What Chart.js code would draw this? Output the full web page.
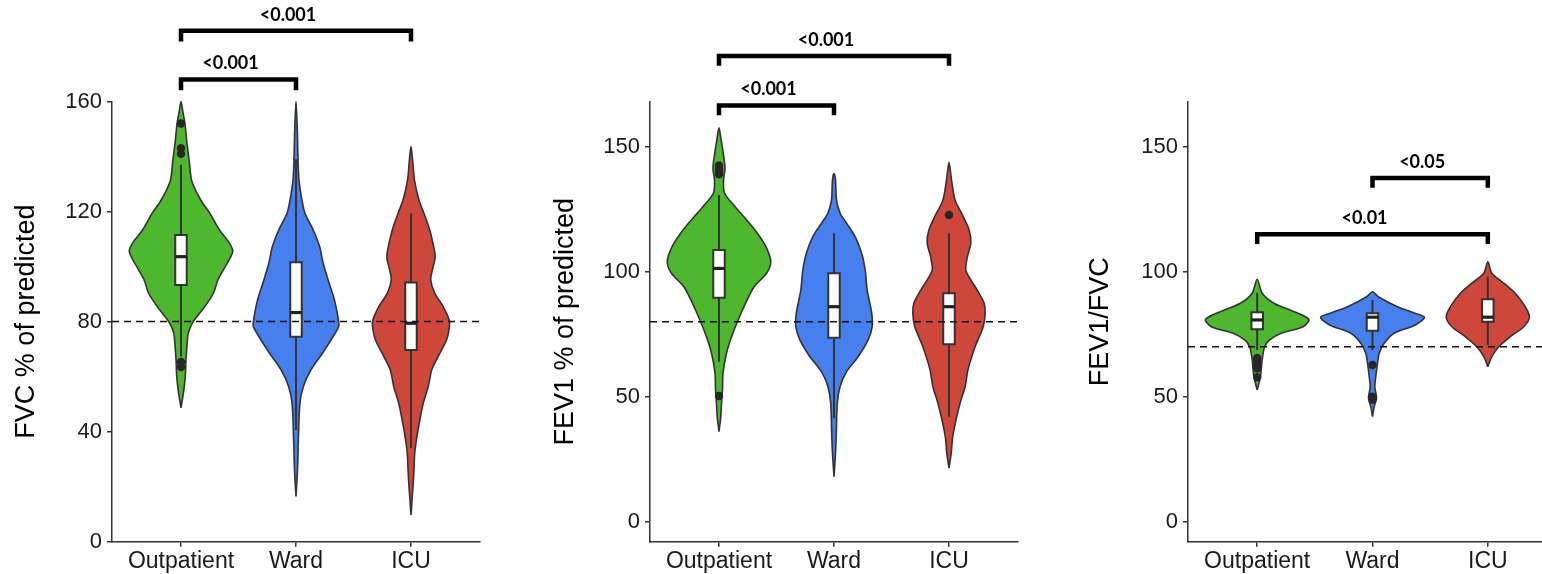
<!DOCTYPE html>
<html><head><meta charset="utf-8">
<script src="https://cdn.jsdelivr.net/npm/chart.js@4.4.0/dist/chart.umd.min.js"></script>
<style>
html,body{margin:0;padding:0;background:#fff;overflow:hidden;width:1542px;height:574px;position:relative;}
canvas{position:absolute;top:0;}
</style></head><body>
<canvas id="c1" width="500" height="574" style="left:0px"></canvas>
<canvas id="c2" width="500" height="574" style="left:540px"></canvas>
<canvas id="c3" width="520" height="574" style="left:1060px"></canvas>
<script>
// ---------- DATA ----------
const categories = ['Outpatient', 'Ward', 'ICU'];
const panelTitles = ['FVC % of predicted', 'FEV1 % of predicted', 'FEV1/FVC'];

// Panel 1: FVC % of predicted — violin density profiles (relative density at value levels)
const fvcOutpatientLevels = [48.6,53,57,61,66,71,76,80,85.4,90.4,95.2,101.3,105.5,108.6,113.3,119.5,124.2,131,138,145,152,156,160];
const fvcOutpatientDensity = [0,2,3.5,4.5,5,6,7.5,12.5,24,33,37.5,47,52.5,49,39,29,20,11,8.5,6,4,2,0];
const fvcWardLevels = [16.4,26,38.2,50.4,56.4,62.4,68.6,74.5,78.2,80.6,87.9,95.2,101.3,107.2,113.3,119.5,124.3,131.5,140,150,160];
const fvcWardDensity = [0,1.5,2.5,4,7.5,15,27,37.5,43.3,43,39,32.5,27.5,24,17.5,9,6,3,2,1.3,0];
const fvcIcuLevels = [9.7,20,26,32.3,38.2,44.3,50.4,56.4,62.4,67.3,73.3,78.2,80.6,85.5,90.4,95.2,98.8,103.5,107.2,113.3,119.5,124.3,131.5,138,143.6];
const fvcIcuDensity = [0,2,3,3.8,6,9,12.5,17.5,21,27.5,36,39,38.7,32.5,24,20,21.7,24.5,23,19,13,8,3.5,1.8,0];
const fvcWhiskerLow = [67.3, 40.6, 34];
const fvcQ1 = [93.3, 74.5, 69.7];
const fvcMedian = [103.6, 83.3, 79.4];
const fvcQ3 = [111.5, 101.6, 94.2];
const fvcWhiskerHigh = [137, 139, 119.4];
const fvcOutliers = [[63.5, 65.3, 141, 143, 152], [], []];
const fvcRefLine = 80;
const fvcTicks = [0, 40, 80, 120, 160];
const fvcBracketFrom = [1, 1];
const fvcBracketTo = [2, 3];
const fvcBracketY = [168, 185.7];
const fvcBracketLabels = ['<0.001', '<0.001'];

// Panel 2: FEV1 % of predicted
const fev1OutpatientLevels = [36,42,47.5,53,59.5,67.5,74,80.7,88.7,94,99.5,104,110,115.5,120.7,126,131.5,136.7,141.4,148,153,157.6];
const fev1OutpatientDensity = [0,1.8,2.5,3.5,4,7.5,12.5,19,28,35,47.5,51.5,46.7,38,27.5,16,5.5,4.5,6,4,2,0];
const fev1WardLevels = [18,27.4,34,47.4,54,60,66,72.7,78,83.4,92.7,100.7,107.4,114,119.4,123.5,128.7,136.7,139.3];
const fev1WardDensity = [0,1.5,2.2,3.3,6,12.5,24,34,38,37.5,33,31,27.5,21,12.5,6,2.5,1.5,0];
const fev1IcuLevels = [21.4,27.4,34,40.7,47.4,54,61,70,78,83.4,87.4,92.7,96.7,100.7,106,111.4,116.7,123.4,128.7,136.7,143.8];
const fev1IcuDensity = [0,2.2,3.7,7,11,16,19,26,34,36,35,28,21.7,16.7,18.3,21.7,20,12.5,6,2.5,0];
const fev1WhiskerLow = [64, 41.4, 42];
const fev1Q1 = [89.6, 73.6, 71];
const fev1Median = [101.3, 86, 86];
const fev1Q3 = [108.7, 99.4, 91.4];
const fev1WhiskerHigh = [130.7, 115.4, 115.4];
const fev1Outliers = [[50.3, 139, 140, 141, 142.5], [], [122.7]];
const fev1RefLine = 80;
const fev1Ticks = [0, 50, 100, 150];
const fev1BracketFrom = [1, 1];
const fev1BracketTo = [2, 3];
const fev1BracketY = [166.5, 186.3];
const fev1BracketLabels = ['<0.001', '<0.001'];

// Panel 3: FEV1/FVC
const ratioOutpatientLevels = [52.7,58,64.7,70,72.7,75.4,78,81,84.7,87.4,91.4,97];
const ratioOutpatientDensity = [0,3.3,5,7.5,12.5,24,46,51.7,33,16.7,5,0];
const ratioWardLevels = [42,46,49.4,54,58,63.4,67.4,71.4,75.4,78.7,81.8,83.4,86,90,92];
const ratioWardDensity = [0,1.7,4,2.3,3.3,5,6.7,11.7,21.7,43,52,42.5,25,5.8,0];
const ratioIcuLevels = [62,66,70,74,78,81.8,86,91.4,95.4,99.4,104];
const ratioIcuDensity = [0,4,11,22.5,36,41.7,37.5,27.5,16,4,0];
const ratioWhiskerLow = [68.7, 68.7, 70.7];
const ratioQ1 = [77, 76.4, 80];
const ratioMedian = [80.7, 81.8, 81.8];
const ratioQ3 = [83.8, 83.4, 89];
const ratioWhiskerHigh = [91.6, 88.7, 98];
const ratioOutliers = [[57.8, 61.3, 63, 64.5, 65.5], [48.8, 50, 62.7], []];
const ratioRefLine = 70;
const ratioTicks = [0, 50, 100, 150];
const ratioBracketFrom = [1, 2];
const ratioBracketTo = [3, 3];
const ratioBracketY = [115, 137.5];
const ratioBracketLabels = ['<0.01', '<0.05'];

// ---------- STYLE ----------
const fillColors = ['#4DB82E', '#4680EE', '#CF463B'];
const outlineColor = '#333333';
const textColor = '#1a1a1a';
const tickFont = "'Liberation Sans', Arial, sans-serif";
const bracketFont = "Lato, 'Open Sans', sans-serif";

const bracketLabelPlugin = {
  id: 'bracketLabels',
  afterDatasetsDraw(chart, args, opts) {
    const ctx = chart.ctx, xs = chart.scales.x, ys = chart.scales.y;
    ctx.save();
    ctx.font = 'bold 18px ' + bracketFont;
    ctx.fillStyle = '#000';
    ctx.textAlign = 'center';
    ctx.textBaseline = 'alphabetic';
    opts.labels.forEach((lab, i) => {
      const px = xs.getPixelForValue((opts.from[i] + opts.to[i]) / 2) + opts.dx;
      const py = ys.getPixelForValue(opts.y[i]) + opts.dy;
      ctx.fillText(lab, px, py);
    });
    ctx.restore();
  }
};

function violinPoints(pos, levels, dens, k) {
  const right = levels.map((y, i) => ({x: pos + dens[i] * k, y}));
  const left = levels.map((y, i) => ({x: pos - dens[i] * k, y})).reverse();
  return right.concat(left.slice(1));
}

function makePanel(id, p) {
  const maxD = Math.max(...p.densities.map(d => Math.max(...d)));
  const k = 0.45 / maxD;
  const bw = 0.05;
  const ds = [];
  // violins
  p.levels.forEach((lv, i) => {
    ds.push({data: violinPoints(i + 1, lv, p.densities[i], k), showLine: true, fill: 'shape',
      backgroundColor: fillColors[i], borderColor: outlineColor, borderWidth: 1.6, tension: 0.3,
      pointRadius: 0, clip: false});
  });
  // whiskers
  categories.forEach((c, i) => {
    ds.push({data: [{x: i + 1, y: p.wLow[i]}, {x: i + 1, y: p.wHigh[i]}], showLine: true, fill: false,
      borderColor: outlineColor, borderWidth: 2, pointRadius: 0, clip: false});
  });
  // boxes
  categories.forEach((c, i) => {
    const x0 = i + 1 - bw, x1 = i + 1 + bw;
    ds.push({data: [{x: x0, y: p.q1[i]}, {x: x1, y: p.q1[i]}, {x: x1, y: p.q3[i]}, {x: x0, y: p.q3[i]}, {x: x0, y: p.q1[i]}, {x: x1, y: p.q1[i]}],
      showLine: true, fill: 'shape', backgroundColor: '#ffffff', borderColor: outlineColor, borderWidth: 2,
      borderJoinStyle: 'miter', tension: 0, pointRadius: 0, clip: false});
  });
  // medians
  categories.forEach((c, i) => {
    ds.push({data: [{x: i + 1 - bw, y: p.med[i]}, {x: i + 1 + bw, y: p.med[i]}], showLine: true, fill: false,
      borderColor: '#222222', borderWidth: 3.2, pointRadius: 0, clip: false});
  });
  // reference line
  ds.push({data: [{x: 0.4, y: p.ref}, {x: 3.6, y: p.ref}], showLine: true, fill: false,
    borderColor: '#111111', borderWidth: 1.5, borderDash: [7, 5], pointRadius: 0, clip: false});
  // outliers
  categories.forEach((c, i) => {
    ds.push({data: p.outliers[i].map(v => ({x: i + 1, y: v})), showLine: false,
      pointRadius: 4.2, pointBackgroundColor: '#262626', pointBorderWidth: 0, clip: false});
  });
  // brackets
  const drop = 3.9;
  p.bFrom.forEach((f, i) => {
    const t = p.bTo[i], y = p.bY[i];
    ds.push({data: [{x: f, y: y - drop}, {x: f, y: y}, {x: t, y: y}, {x: t, y: y - drop}], showLine: true, fill: false,
      borderColor: '#000000', borderWidth: 4.5, borderJoinStyle: 'miter', borderCapStyle: 'butt', tension: 0,
      pointRadius: 0, clip: false});
  });
  const n = ds.length;
  ds.forEach((d, i) => { d.order = n - i; });

  return new Chart(document.getElementById(id), {
    type: 'scatter',
    data: {datasets: ds},
    plugins: [bracketLabelPlugin],
    options: {
      responsive: false, animation: false, events: [],
      layout: {padding: {top: p.chartTop, left: 0, right: p.padRight, bottom: 0}},
      plugins: {legend: {display: false}, tooltip: {enabled: false},
        bracketLabels: {from: p.bFrom, to: p.bTo, y: p.bY, labels: p.bLabels, dx: -8, dy: -10}},
      scales: {
        x: {type: 'linear', min: 0.4, max: 3.6,
          afterBuildTicks: s => { s.ticks = categories.map((c, i) => ({value: i + 1})); },
          afterFit: s => { s.height = 574 - 541.7; },
          grid: {drawOnChartArea: false, drawTicks: true, tickLength: 5, color: outlineColor, lineWidth: 1.5},
          border: {display: true, color: outlineColor, width: 1.5},
          ticks: {autoSkip: false, maxRotation: 0, padding: 1, color: textColor,
            font: {family: tickFont, size: 23}, callback: v => categories[Math.round(v) - 1]}},
        y: {type: 'linear', min: p.yMin, max: p.yMax,
          afterBuildTicks: s => { s.ticks = p.ticks.map(v => ({value: v})); },
          afterFit: s => { s.width = p.yWidth; },
          grid: {drawOnChartArea: false, drawTicks: true, tickLength: 5, color: outlineColor, lineWidth: 1.5},
          border: {display: true, color: outlineColor, width: 1.5},
          ticks: {autoSkip: false, padding: 5, color: textColor, font: {family: tickFont, size: 22}},
          title: {display: true, text: p.title, color: '#000', font: {family: tickFont, size: 27},
            padding: {top: p.titlePad, bottom: 0}}}
      }
    }
  });
}

makePanel('c1', {
  levels: [fvcOutpatientLevels, fvcWardLevels, fvcIcuLevels],
  densities: [fvcOutpatientDensity, fvcWardDensity, fvcIcuDensity],
  wLow: fvcWhiskerLow, q1: fvcQ1, med: fvcMedian, q3: fvcQ3, wHigh: fvcWhiskerHigh, outliers: fvcOutliers,
  ref: fvcRefLine, ticks: fvcTicks, yMin: 0, yMax: 160, title: panelTitles[0],
  bFrom: fvcBracketFrom, bTo: fvcBracketTo, bY: fvcBracketY, bLabels: fvcBracketLabels,
  chartTop: 101.5, padRight: 20, yWidth: 112, titlePad: 10
});
makePanel('c2', {
  levels: [fev1OutpatientLevels, fev1WardLevels, fev1IcuLevels],
  densities: [fev1OutpatientDensity, fev1WardDensity, fev1IcuDensity],
  wLow: fev1WhiskerLow, q1: fev1Q1, med: fev1Median, q3: fev1Q3, wHigh: fev1WhiskerHigh, outliers: fev1Outliers,
  ref: fev1RefLine, ticks: fev1Ticks, yMin: -8, yMax: 168, title: panelTitles[1],
  bFrom: fev1BracketFrom, bTo: fev1BracketTo, bY: fev1BracketY, bLabels: fev1BracketLabels,
  chartTop: 101.7, padRight: 22, yWidth: 110, titlePad: 9
});
makePanel('c3', {
  levels: [ratioOutpatientLevels, ratioWardLevels, ratioIcuLevels],
  densities: [ratioOutpatientDensity, ratioWardDensity, ratioIcuDensity],
  wLow: ratioWhiskerLow, q1: ratioQ1, med: ratioMedian, q3: ratioQ3, wHigh: ratioWhiskerHigh, outliers: ratioOutliers,
  ref: ratioRefLine, ticks: ratioTicks, yMin: -8, yMax: 168, title: panelTitles[2],
  bFrom: ratioBracketFrom, bTo: ratioBracketTo, bY: ratioBracketY, bLabels: ratioBracketLabels,
  chartTop: 101.7, padRight: 23, yWidth: 128, titlePad: 24
});
</script>
</body></html>
